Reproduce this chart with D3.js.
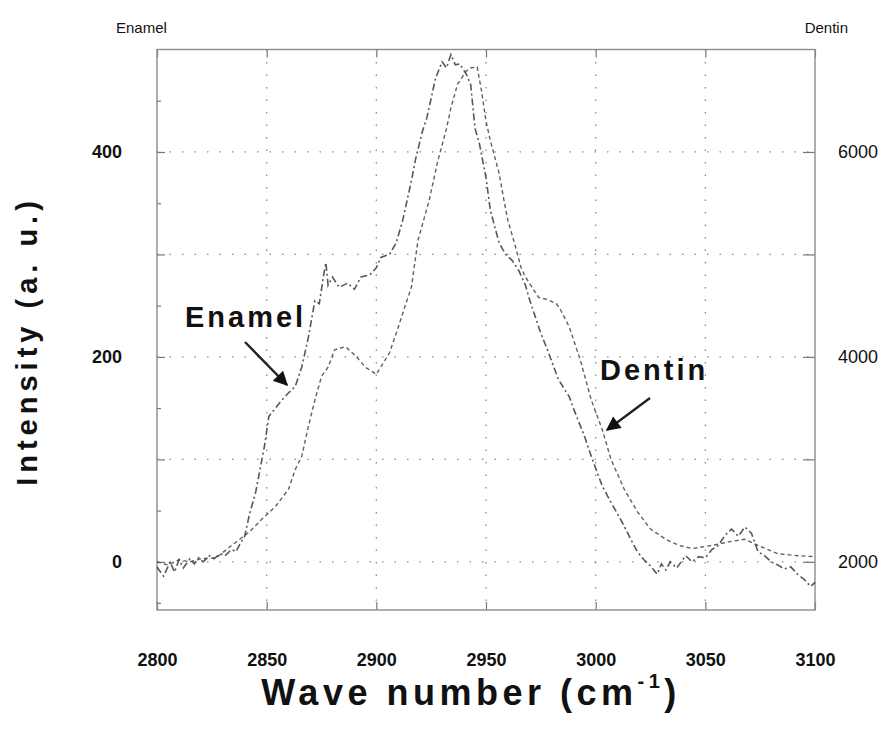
<!DOCTYPE html>
<html><head><meta charset="utf-8">
<script src="https://cdn.jsdelivr.net/npm/d3@7"></script>
<style>body{margin:0;background:#fff} svg{display:block}</style>
</head><body><svg id="chart" width="890" height="741"></svg>
<script>
// ---- data ----
const enamelWn = [2800,2803,2806,2808,2810,2812,2815,2817,2819,2821,2824,2826,2829,2831,2834,2836,2838,2840,2842,2845,2849,2851,2854,2857,2860,2863,2866,2869,2872,2874,2876,2877,2878,2880,2883,2887,2890,2893,2897,2900,2902,2906,2909,2912,2916,2918,2921,2923,2927,2930,2932,2934,2936,2938,2941,2943,2945,2947,2950,2952,2956,2959,2962,2965,2968,2970,2975,2978,2983,2988,2990,2995,2998,3003,3007,3012,3016,3019,3022,3025,3028,3030,3032,3034,3037,3041,3044,3047,3050,3053,3056,3059,3062,3065,3068,3071,3074,3077,3080,3083,3086,3089,3092,3095,3098,3100];
const enamelVal = [-5,-14,0,-10,2,-6,3,-2,4,0,6,3,8,6,12,10,18,25,45,68,113,142,150,158,165,171,190,219,255,252,280,292,270,278,268,272,266,278,280,287,297,300,311,333,372,394,420,433,472,488,482,495,485,486,476,466,423,408,375,343,311,300,294,284,270,255,223,207,178,161,149,122,103,74,58,39,22,10,2,-4,-12,-2,-8,0,-6,6,0,5,4,12,16,26,32,25,34,28,10,6,0,-3,-7,-5,-12,-17,-24,-20];
const dentinWn = [2800,2805,2810,2815,2820,2827,2834,2842,2848,2854,2860,2863,2866,2869,2872,2875,2878,2881,2886,2891,2895,2900,2902,2906,2910,2913,2916,2919,2924,2928,2932,2934,2937,2941,2943,2946,2948,2950,2952,2956,2958,2960,2963,2966,2968,2974,2978,2982,2984,2988,2993,2998,3003,3007,3013,3019,3025,3032,3038,3044,3053,3062,3068,3074,3083,3092,3100];
const dentinVal = [2000,1970,2020,2000,2030,2040,2160,2290,2420,2540,2710,2900,3030,3320,3580,3810,3900,4070,4100,4000,3900,3830,3900,4040,4290,4490,4680,5140,5520,5910,6230,6430,6660,6790,6820,6830,6590,6300,6110,5790,5550,5330,5110,4870,4780,4580,4560,4520,4460,4290,3970,3580,3290,3000,2710,2490,2320,2220,2160,2130,2160,2200,2220,2160,2080,2060,2050];
const xTicks = [2800,2850,2900,2950,3000,3050,3100];
const leftTicks = [0,200,400];
const leftMajor = [0,100,200,300,400];
const leftMinor = [-40,50,150,250,350,450];
const rightTicks = [2000,4000,6000];
const rightMajor = [2000,3000,4000,5000,6000];
const gridX = [2850,2900,2950,3000,3050];
const gridY = [0,100,200,300,400];

// ---- layout ----
const svg = d3.select("#chart");
svg.append("rect").attr("width",890).attr("height",741).attr("fill","#fff");
const L=157,R=815,T=49.5,B=610;
const x = d3.scaleLinear().domain([2800,3100]).range([L,R]);
const yL = d3.scaleLinear().domain([-47,500]).range([B,T]);
const yR = d3.scaleLinear().domain([1530,7000]).range([B,T]);
const FONT = "'Liberation Sans', Arial, sans-serif";

// grid
const grid = svg.append("g").attr("stroke","#8a8a8a").attr("stroke-width",1.3).attr("stroke-dasharray","1.5,11");
grid.selectAll("line.gx").data(gridX).join("line")
  .attr("x1",d=>x(d)).attr("x2",d=>x(d)).attr("y1",T).attr("y2",B);
grid.selectAll("line.gy").data(gridY).join("line")
  .attr("x1",L).attr("x2",R).attr("y1",d=>yL(d)).attr("y2",d=>yL(d));

// axes
function styleAxis(g){
  g.select(".domain").remove();
  g.selectAll(".tick line").attr("stroke","#777").attr("stroke-width",1.2);
}
svg.append("g").attr("transform",`translate(0,${B})`)
  .call(d3.axisBottom(x).tickValues(xTicks).tickSizeInner(-8).tickSizeOuter(0).tickPadding(43).tickFormat(d3.format("d")))
  .call(styleAxis)
  .selectAll("text").attr("font-family",FONT).attr("font-weight","bold").attr("font-size",18).attr("fill","#111");
svg.append("g").attr("transform",`translate(0,${T})`)
  .call(d3.axisTop(x).tickValues(xTicks).tickSizeInner(-8).tickSizeOuter(0).tickFormat(""))
  .call(styleAxis);
svg.append("g").attr("transform",`translate(${L},0)`)
  .call(d3.axisLeft(yL).tickValues(leftMajor).tickSizeInner(-8).tickSizeOuter(0).tickPadding(35)
    .tickFormat(d=>leftTicks.includes(d)?d:""))
  .call(styleAxis)
  .selectAll("text").attr("font-family",FONT).attr("font-weight","bold").attr("font-size",18).attr("fill","#111");
svg.append("g").attr("transform",`translate(${L},0)`)
  .call(d3.axisLeft(yL).tickValues(leftMinor).tickSizeInner(-4).tickSizeOuter(0).tickFormat(""))
  .call(styleAxis);
svg.append("g").attr("transform",`translate(${R},0)`)
  .call(d3.axisRight(yR).tickValues(rightMajor).tickSizeInner(-12).tickSizeOuter(0).tickPadding(23)
    .tickFormat(d=>rightTicks.includes(d)?d:""))
  .call(styleAxis)
  .selectAll("text").attr("font-family",FONT).attr("font-size",18).attr("fill","#111");

// frame
svg.append("rect").attr("x",L).attr("y",T).attr("width",R-L).attr("height",B-T)
  .attr("fill","none").attr("stroke","#8c8c8c").attr("stroke-width",1.4);

// curves
const lineE = d3.line().x((d,i)=>x(enamelWn[i])).y(d=>yL(d));
const lineD = d3.line().x((d,i)=>x(dentinWn[i])).y(d=>yR(d));
svg.append("path").datum(enamelVal).attr("d",lineE).attr("fill","none")
  .attr("stroke","#3a3a3a").attr("stroke-width",1.6).attr("stroke-dasharray","7,3,2,3").attr("opacity",0.85);
svg.append("path").datum(dentinVal).attr("d",lineD).attr("fill","none")
  .attr("stroke","#3a3a3a").attr("stroke-width",1.4).attr("stroke-dasharray","4,3").attr("opacity",0.8);

// arrow marker
svg.append("defs").append("marker").attr("id","ah").attr("viewBox","0 0 10 10")
  .attr("refX",9).attr("refY",5).attr("markerWidth",7).attr("markerHeight",6).attr("orient","auto")
  .attr("markerUnits","strokeWidth")
  .append("path").attr("d","M0,0 L10,5 L0,10 z").attr("fill","#111");

// annotations
svg.append("text").attr("x",185).attr("y",327).text("Enamel")
  .attr("font-family",FONT).attr("font-weight","bold").attr("font-size",29).attr("letter-spacing",3).attr("fill","#111");
svg.append("line").attr("x1",245).attr("y1",342).attr("x2",287).attr("y2",385)
  .attr("stroke","#222").attr("stroke-width",2.4).attr("marker-end","url(#ah)");
svg.append("text").attr("x",600).attr("y",380).text("Dentin")
  .attr("font-family",FONT).attr("font-weight","bold").attr("font-size",29).attr("letter-spacing",3).attr("fill","#111");
svg.append("line").attr("x1",650).attr("y1",398).attr("x2",607).attr("y2",430)
  .attr("stroke","#222").attr("stroke-width",2.4).attr("marker-end","url(#ah)");

// top corner labels
svg.append("text").attr("x",116).attr("y",33).text("Enamel")
  .attr("font-family","'Liberation Sans Narrow', "+FONT).attr("font-size",15).attr("fill","#111");
svg.append("text").attr("x",848).attr("y",33).attr("text-anchor","end").text("Dentin")
  .attr("font-family","'Liberation Sans Narrow', "+FONT).attr("font-size",15).attr("fill","#111");

// axis titles
const xt = svg.append("text").attr("x",471).attr("y",705).attr("text-anchor","middle")
  .attr("font-family",FONT).attr("font-weight","bold").attr("font-size",36).attr("letter-spacing",4.5).attr("fill","#111");
xt.append("tspan").text("Wave number (cm");
xt.append("tspan").attr("font-size",20).attr("dy",-17).text("-1");
xt.append("tspan").attr("dy",17).text(")");
svg.append("text").attr("transform","translate(37,341) rotate(-90)").attr("text-anchor","middle")
  .attr("font-family",FONT).attr("font-weight","bold").attr("font-size",29).attr("letter-spacing",5).attr("fill","#111")
  .text("Intensity (a. u.)");
</script></body></html>
